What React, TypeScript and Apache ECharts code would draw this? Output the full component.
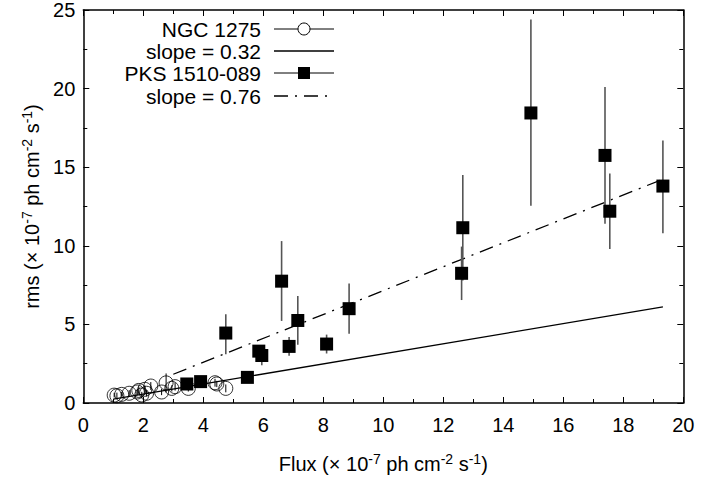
import React, { useEffect, useRef } from "react";
import * as echarts from "echarts";

// NGC 1275 (open circles)
const ngcFlux = [1.03, 1.12, 1.28, 1.53, 1.80, 1.85, 1.95, 2.05, 2.11, 2.25, 2.61, 2.76, 2.95, 3.06, 3.50, 4.39, 4.45, 4.75];
const ngcRms = [0.50, 0.46, 0.55, 0.62, 0.70, 0.80, 0.51, 0.87, 0.62, 1.08, 0.70, 1.28, 0.93, 1.04, 0.93, 1.29, 1.21, 0.93];
const ngcErr = [0.15, 0.2, 0.15, 0.2, 0.2, 0.25, 0.2, 0.25, 0.2, 0.25, 0.2, 0.6, 0.2, 0.25, 0.2, 0.25, 0.2, 0.25];

// PKS 1510-089 (filled squares)
const pksFlux = [3.45, 3.91, 4.75, 5.47, 5.85, 5.95, 6.61, 6.86, 7.15, 8.11, 8.86, 12.61, 12.65, 14.92, 17.39, 17.55, 19.32];
const pksRms = [1.21, 1.36, 4.45, 1.63, 3.30, 3.02, 7.75, 3.60, 5.25, 3.75, 6.00, 8.25, 11.15, 18.45, 15.75, 12.20, 13.80];
const pksLow = [1.1, 1.25, 3.1, 1.5, 2.95, 2.4, 5.22, 3.0, 3.7, 3.15, 4.4, 6.55, 7.8, 12.55, 11.4, 9.8, 10.8];
const pksHigh = [1.35, 1.5, 5.65, 1.75, 3.65, 3.6, 10.3, 4.2, 6.8, 4.35, 7.6, 9.95, 14.5, 24.4, 20.1, 14.6, 16.7];

// fitted lines
const fit1X = [1.0, 19.32];
const fit1Y = [0.25, 6.11];
const fit2X = [3.0, 19.3];
const fit2Y = [1.83, 14.22];

// axes
const xTicks = { min: 0, max: 20, interval: 2 };
const yTicks = { min: 0, max: 25, interval: 5 };

const legendLabels = ["NGC 1275", "slope = 0.32", "PKS 1510-089", "slope = 0.76"];

const FONT = "'Liberation Sans', Arial, Helvetica, sans-serif";
const DASHDOT = [14, 7, 2, 7];

export default function App() {
  const ref = useRef<HTMLDivElement>(null);
  useEffect(() => {
    if (!ref.current) return;
    const chart = echarts.init(ref.current, null, { renderer: "svg" });

    const errRender = (color: string, width: number) => (params: any, api: any) => {
      const x = api.value(0);
      const p1 = api.coord([x, api.value(1)]);
      const p2 = api.coord([x, api.value(2)]);
      return {
        type: "line",
        shape: { x1: p1[0], y1: p1[1], x2: p2[0], y2: p2[1] },
        style: { stroke: color, lineWidth: width },
      };
    };

    const baseX = {
      type: "value",
      min: xTicks.min,
      max: xTicks.max,
      interval: xTicks.interval,
      splitLine: { show: false },
      axisLine: { show: true, onZero: false, lineStyle: { color: "#000", width: 1.5 } },
      axisTick: { show: true, inside: true, length: 6, lineStyle: { color: "#000", width: 1 } },
      minorTick: { show: true, splitNumber: 2, length: 4, lineStyle: { color: "#000", width: 1 } },
    };
    const baseY = {
      type: "value",
      min: yTicks.min,
      max: yTicks.max,
      interval: yTicks.interval,
      splitLine: { show: false },
      axisLine: { show: true, onZero: false, lineStyle: { color: "#000", width: 1.5 } },
      axisTick: { show: true, inside: true, length: 6, lineStyle: { color: "#000", width: 1 } },
      minorTick: { show: true, splitNumber: 2, length: 4, lineStyle: { color: "#000", width: 1 } },
    };

    const rowY = [29, 51, 73, 96];
    const textRight = 261;
    const sx1 = 274;
    const sx2 = 334;
    const sxm = (sx1 + sx2) / 2;
    const graphics: any[] = [];
    legendLabels.forEach((lab, i) => {
      graphics.push({
        type: "text",
        x: textRight,
        y: rowY[i],
        style: {
          text: lab,
          fill: "#000",
          font: `21px ${FONT}`,
          textAlign: "right",
          textVerticalAlign: "middle",
        },
      });
    });
    graphics.push({ type: "line", shape: { x1: sx1, y1: rowY[0], x2: sx2, y2: rowY[0] }, style: { stroke: "#000", lineWidth: 1 } });
    graphics.push({ type: "circle", shape: { cx: sxm, cy: rowY[0], r: 6 }, style: { fill: "#fff", stroke: "#000", lineWidth: 1 } });
    graphics.push({ type: "line", shape: { x1: sx1, y1: rowY[1], x2: sx2, y2: rowY[1] }, style: { stroke: "#000", lineWidth: 1.3 } });
    graphics.push({ type: "line", shape: { x1: sx1, y1: rowY[2], x2: sx2, y2: rowY[2] }, style: { stroke: "#000", lineWidth: 1 } });
    graphics.push({ type: "rect", shape: { x: sxm - 6, y: rowY[2] - 6, width: 12, height: 12 }, style: { fill: "#000" } });
    graphics.push({ type: "line", shape: { x1: sx1, y1: rowY[3], x2: sx2, y2: rowY[3] }, style: { stroke: "#000", lineWidth: 1.3, lineDash: DASHDOT } });

    const nameRich = {
      n: { fontSize: 20, color: "#000", fontFamily: FONT },
      s: { fontSize: 14, color: "#000", fontFamily: FONT, padding: [0, 0, 10, 0] },
    };

    chart.setOption({
      animation: false,
      backgroundColor: "#fff",
      textStyle: { fontFamily: FONT },
      grid: { left: 83.3, right: 42.7, top: 10, bottom: 76, containLabel: false },
      xAxis: [
        {
          ...baseX,
          position: "bottom",
          name: "{n|Flux (× 10}{s|-7}{n| ph cm}{s|-2}{n| s}{s|-1}{n|)}",
          nameLocation: "middle",
          nameGap: 49,
          nameTextStyle: { rich: nameRich },
          axisLabel: { show: true, color: "#000", fontSize: 20, margin: 12, fontFamily: FONT },
        },
        {
          ...baseX,
          position: "top",
          axisLabel: { show: false },
        },
      ],
      yAxis: [
        {
          ...baseY,
          position: "left",
          name: "{n|rms (× 10}{s|-7}{n| ph cm}{s|-2}{n| s}{s|-1}{n|)}",
          nameLocation: "middle",
          nameGap: 34,
          nameRotate: 90,
          nameTextStyle: { rich: nameRich },
          axisLabel: { show: true, color: "#000", fontSize: 20, margin: 8, fontFamily: FONT },
        },
        {
          ...baseY,
          position: "right",
          axisLabel: { show: false },
        },
      ],
      graphic: graphics,
      series: [
        {
          name: "slope = 0.32",
          type: "line",
          xAxisIndex: 0,
          yAxisIndex: 0,
          data: fit1X.map((x, i) => [x, fit1Y[i]]),
          showSymbol: false,
          symbol: "none",
          lineStyle: { color: "#000", width: 1.3 },
          z: 2,
        },
        {
          name: "slope = 0.76",
          type: "line",
          xAxisIndex: 0,
          yAxisIndex: 0,
          data: fit2X.map((x, i) => [x, fit2Y[i]]),
          showSymbol: false,
          symbol: "none",
          lineStyle: { color: "#000", width: 1.3, type: DASHDOT },
          z: 2,
        },
        {
          name: "NGC err",
          type: "custom",
          xAxisIndex: 0,
          yAxisIndex: 0,
          renderItem: errRender("#000", 1),
          encode: { x: 0, y: [1, 2] },
          data: ngcFlux.map((x, i) => [x, ngcRms[i] - ngcErr[i], ngcRms[i] + ngcErr[i]]),
          z: 3,
        },
        {
          name: "NGC 1275",
          type: "scatter",
          xAxisIndex: 0,
          yAxisIndex: 0,
          symbol: "circle",
          symbolSize: 14,
          data: ngcFlux.map((x, i) => [x, ngcRms[i]]),
          itemStyle: { color: "rgba(0,0,0,0)", borderColor: "#000", borderWidth: 1 },
          z: 4,
        },
        {
          name: "PKS err",
          type: "custom",
          xAxisIndex: 0,
          yAxisIndex: 0,
          renderItem: errRender("#555", 1.6),
          encode: { x: 0, y: [1, 2] },
          data: pksFlux.map((x, i) => [x, pksLow[i], pksHigh[i]]),
          z: 5,
        },
        {
          name: "PKS 1510-089",
          type: "scatter",
          xAxisIndex: 0,
          yAxisIndex: 0,
          symbol: "rect",
          symbolSize: 13,
          data: pksFlux.map((x, i) => [x, pksRms[i]]),
          itemStyle: { color: "#000", opacity: 1 },
          z: 6,
        },
      ],
    });
    return () => chart.dispose();
  }, []);
  return (
    <div
      ref={ref}
      style={{ position: "fixed", left: 0, top: 0, width: 726, height: 479, background: "#fff" }}
    />
  );
}
